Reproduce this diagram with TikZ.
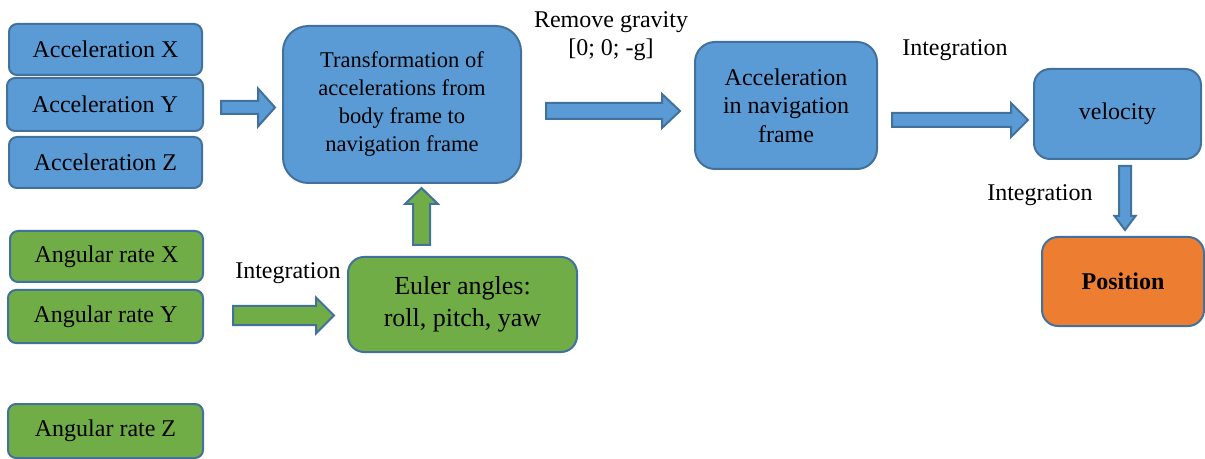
\documentclass[tikz,border=0pt]{standalone}
\usepackage{fontspec}
\setmainfont{Liberation Serif}
\usetikzlibrary{calc}
\definecolor{bfill}{HTML}{5B9BD5}
\definecolor{bline}{HTML}{41719C}
\definecolor{gfill}{HTML}{70AD47}
\definecolor{ofill}{HTML}{ED7D31}
\tikzset{
  box/.style={draw=bline, line width=1.5pt, rounded corners=#1, align=center,
    inner sep=0pt, font=\fontsize{18}{21.4}\selectfont},
  box/.default=6pt,
  bluebox/.style={box=#1, fill=bfill},
  bluebox/.default=6pt,
  greenbox/.style={box=#1, fill=gfill},
  greenbox/.default=6pt,
  lbl/.style={font=\fontsize{18}{20.5}\selectfont, align=center, inner sep=0pt},
  blk/.style={draw=bline, line width=1.5pt, line join=miter},
}
% horizontal block arrow: start, end, body half, head half, head length, fill
\newcommand\hblock[6]{%
  \draw[blk, fill=#6] ($(#1)+(0,-#3)$) -- ($(#2)+(-#5,-#3)$) -- ($(#2)+(-#5,-#4)$)
    -- (#2) -- ($(#2)+(-#5,#4)$) -- ($(#2)+(-#5,#3)$) -- ($(#1)+(0,#3)$) -- cycle;}
% vertical block arrow (tip at #2), #5 head length measured toward #1
\newcommand\vblock[7]{%
  \draw[blk, fill=#6] ($(#1)+(-#3,0)$) -- ($(#2)+(-#3,#7#5)$) -- ($(#2)+(-#4,#7#5)$)
    -- (#2) -- ($(#2)+(#4,#7#5)$) -- ($(#2)+(#3,#7#5)$) -- ($(#1)+(#3,0)$) -- cycle;}
\begin{document}
\begin{tikzpicture}[x=0.75pt, y=-0.75pt]
\useasboundingbox (0,0) rectangle (1205,459);

% left input boxes
\node[bluebox, minimum width=193*0.75pt, minimum height=51*0.75pt] (ax) at (105.5,49.5) {Acceleration X};
\node[bluebox, minimum width=196*0.75pt, minimum height=53*0.75pt] (ay) at (105,104.5) {Acceleration Y};
\node[bluebox, minimum width=193*0.75pt, minimum height=51*0.75pt] (az) at (105.5,162.5) {Acceleration Z};
\node[greenbox, minimum width=193*0.75pt, minimum height=51*0.75pt] (wx) at (106.5,256.5) {Angular rate X};
\node[greenbox, minimum width=195*0.75pt, minimum height=53*0.75pt] (wy) at (105.5,316.5) {Angular rate Y};
\node[greenbox, minimum width=195*0.75pt, minimum height=54*0.75pt] (wz) at (105.5,431) {Angular rate Z};

% main boxes
\node[bluebox=19pt, minimum width=238*0.75pt, minimum height=157*0.75pt,
      font=\fontsize{16.9}{21}\selectfont] (tr) at (402,104.5)
  {\raisebox{-1.5pt}{\parbox{170pt}{\centering Transformation of\\accelerations from\\body frame to\\navigation frame}}};
\node[greenbox=12pt, minimum width=229*0.75pt, minimum height=95*0.75pt,
      font=\fontsize{19.5}{24}\selectfont] (eu) at (462.5,304.5)
  {Euler angles:\\roll, pitch, yaw};
\node[bluebox=15pt, minimum width=182*0.75pt, minimum height=127*0.75pt] (an) at (786,105.5)
  {\raisebox{-1.5pt}{\parbox{130pt}{\centering Acceleration\\in navigation\\frame}}};
\node[bluebox=12pt, minimum width=167*0.75pt, minimum height=90*0.75pt] (ve) at (1117.5,114) {\raisebox{-2pt}{velocity}};
\node[box=12pt, fill=ofill, minimum width=162*0.75pt, minimum height=89*0.75pt] (po) at (1123,281.5) {\raisebox{-1.5pt}{\textbf{Position}}};

% labels
\node[lbl] (lg) at (611,36) {Remove gravity\\{}[0; 0; -g]};
\node[lbl, anchor=west] (li1) at (902,50) {Integration};
\node[lbl, anchor=west] (li2) at (987,195) {Integration};
\node[lbl, anchor=west] (li3) at (235,273) {Integration};

% arrow end coordinates
\coordinate (a1s) at ($(ay.east)+(17,3)$);
\coordinate (a1e) at ($(ay.east)+(71,3)$);
\coordinate (a2s) at (546,111);
\coordinate (a2e) at ($(an.west)+(-14,5.5)$);
\coordinate (a3s) at ($(an.east)+(14,14.5)$);
\coordinate (a3e) at ($(ve.west)+(-5,6)$);
\coordinate (a4s) at ($(ve.south)+(7.5,6)$);
\coordinate (a4e) at ($(po.north)+(2,-6)$);
\coordinate (a5s) at (233,315.5);
\coordinate (a5e) at ($(eu.west)+(-13,11)$);
\coordinate (a6s) at ($(eu.north)+(-41,-11)$);
\coordinate (a6e) at ($(tr.south)+(19.5,4)$);

% block arrows
\hblock{a1s}{a1e}{6.5}{19}{17}{bfill}
\hblock{a2s}{a2e}{8}{17}{18}{bfill}
\hblock{a3s}{a3e}{7}{17}{17}{bfill}
\vblock{a4s}{a4e}{6}{10.5}{14}{bfill}{-}
\hblock{a5s}{a5e}{9.5}{18}{18}{gfill}
\vblock{a6s}{a6e}{8.5}{16.5}{16}{gfill}{}
\end{tikzpicture}
\end{document}
